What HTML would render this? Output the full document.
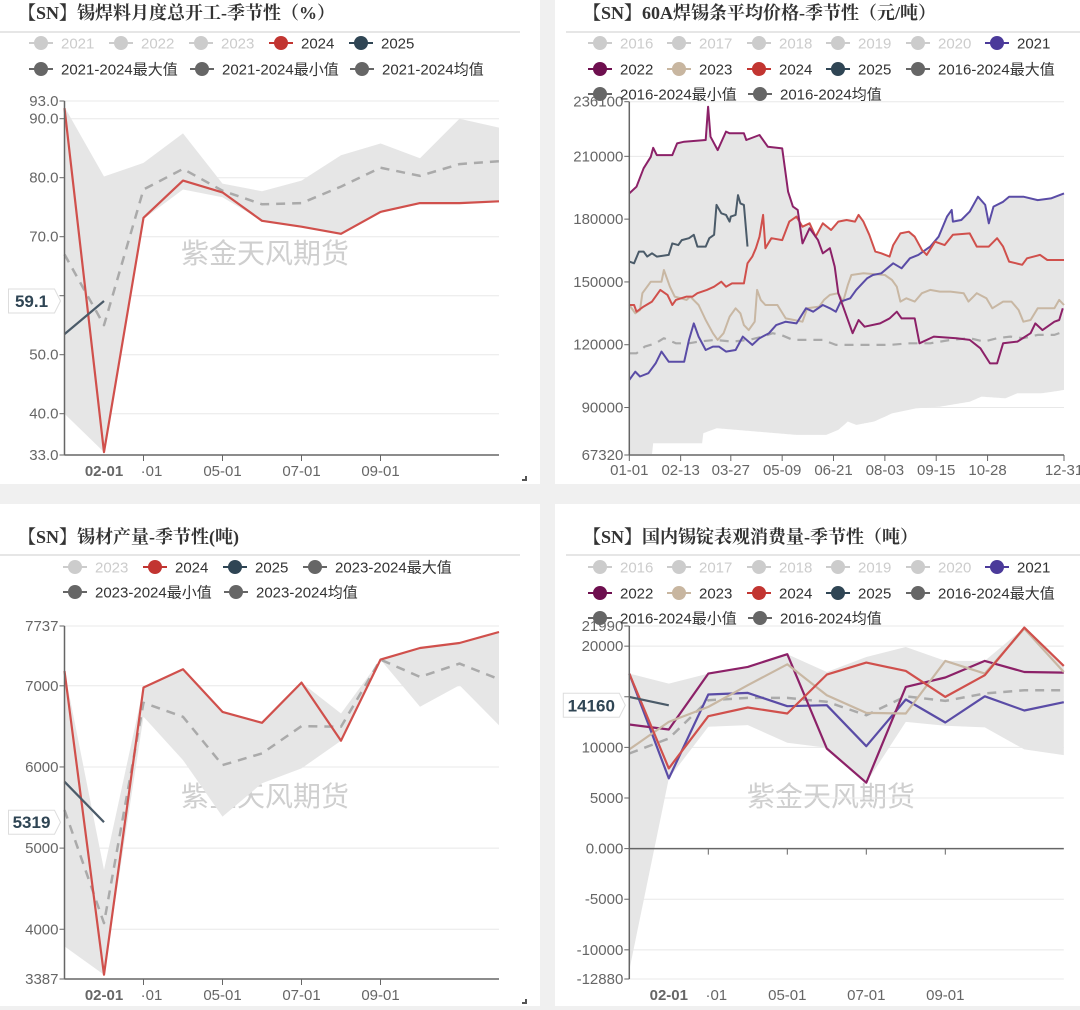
<!DOCTYPE html>
<html><head><meta charset="utf-8">
<style>
html,body{margin:0;padding:0;background:#f0f0f0;}
svg{display:block;}
text{font-family:"Liberation Sans","Noto Sans CJK SC",sans-serif;}
.title{font-family:"Liberation Serif","Noto Serif CJK SC",serif;font-weight:bold;font-size:18px;fill:#333;}
.tick{font-size:15px;fill:#666;}
.leg{font-size:15px;fill:#333;}
.legoff{font-size:15px;fill:#ccc;}
.wm{font-size:28px;fill:#cfcfcf;}
</style></head>
<body>
<svg id="s" xmlns="http://www.w3.org/2000/svg" width="1080" height="1010" viewBox="0 0 1080 1010">
<rect x="0" y="0" width="1080" height="1010" fill="#f0f0f0"/>
<rect x="0" y="0" width="540" height="484" fill="#fff"/>
<rect x="555" y="0" width="525" height="484" fill="#fff"/>
<rect x="0" y="504" width="540" height="502" fill="#fff"/>
<rect x="555" y="504" width="525" height="502" fill="#fff"/>
<text class="title" x="18" y="19">【SN】锡焊料月度总开工-季节性（%）</text>
<text class="title" x="583" y="19">【SN】60A焊锡条平均价格-季节性（元/吨）</text>
<text class="title" x="18" y="543">【SN】锡材产量-季节性(吨)</text>
<text class="title" x="583" y="543">【SN】国内锡锭表观消费量-季节性（吨）</text>
<line x1="0" y1="32" x2="520" y2="32" stroke="#ccc"/>
<line x1="566" y1="32" x2="1080" y2="32" stroke="#ccc"/>
<line x1="0" y1="555" x2="520" y2="555" stroke="#ccc"/>
<line x1="566" y1="555" x2="1080" y2="555" stroke="#ccc"/>
<text class="wm" x="181" y="263">紫金天风期货</text>
<text class="wm" x="747" y="280">紫金天风期货</text>
<text class="wm" x="181" y="806">紫金天风期货</text>
<text class="wm" x="747" y="806">紫金天风期货</text>
<path d="M522 480 h4 v-4" stroke="#555" stroke-width="2" fill="none"/>
<path d="M522 1003 h4 v-4" stroke="#555" stroke-width="2" fill="none"/>
</svg>
<script>
// ===== Panel 1: solder utilization (%) monthly =====
const p1Ticks = [93, 90, 80, 70, 60, 50, 40, 33];
const p1TickLabels = ["93.0","90.0","80.0","70.0","","50.0","40.0","33.0"];
const p1S2024 = [91.8, 33.5, 73.2, 79.5, 77.5, 72.7, 71.7, 70.5, 74.2, 75.7, 75.7, 76.0];
const p1S2025 = [53.5, 59.1];
const p1Mean = [67, 55, 78, 81.5, 77.8, 75.5, 75.7, 78.5, 81.7, 80.3, 82.3, 82.8];
const p1Max = [92, 80.2, 82.5, 87.5, 79, 77.7, 79.5, 83.8, 85.8, 83.3, 90, 88.5];
const p1Min = [40, 33.5, 73, 78, 76.7, 72.7, 71.7, 70.5, 74.2, 75.7, 75.7, 76];
const p1Last = "59.1";
// ===== Panel 3: tin material output (t) monthly =====
const p3Ticks = [7737, 7000, 6000, 5000, 4000, 3387];
const p3TickLabels = ["7737","7000","6000","5000","4000","3387"];
const p3S2024 = [7183, 3440, 6979, 7204, 6679, 6544, 7040, 6323, 7323, 7466, 7528, 7663];
const p3S2025 = [5818, 5319];
const p3Mean = [5470, 4076, 6790, 6618, 6023, 6167, 6503, 6495, 7323, 7110, 7274, 7081];
const p3Max = [7183, 4732, 6979, 7204, 6679, 6544, 7040, 6659, 7323, 7466, 7528, 7663];
const p3Min = [3789, 3440, 6618, 6085, 5388, 5798, 5982, 6323, 7323, 6741, 7007, 6515];
const p3Last = "5319";
// ===== Panel 4: apparent consumption (t) monthly =====
const p4Ticks = [21990, 20000, 15000, 10000, 5000, 0, -5000, -10000, -12880];
const p4TickLabels = ["21990","20000","","10000","5000","0.000","-5000","-10000","-12880"];
const p4S2021 = [17290, 6940, 15220, 15380, 14070, 14170, 10120, 14730, 12460, 15050, 13640, 14460];
const p4S2022 = [12260, 11770, 17290, 17950, 19200, 9890, 6510, 15970, 16900, 18540, 17450, 17390];
const p4S2023 = [9800, 12520, 14000, 16140, 18210, 15150, 13410, 13350, 18540, 17290, 21730, 17450];
const p4S2024 = [17290, 7920, 13080, 13940, 13350, 17190, 18370, 17550, 14990, 17130, 21830, 18050];
const p4S2025 = [14990, 14160];
const p4Mean = [9400, 10880, 14660, 14890, 14890, 14500, 13180, 15050, 14590, 15320, 15650, 15650];
const p4Max = [17290, 16300, 17290, 17950, 19200, 17450, 18930, 19920, 18540, 18540, 21830, 18050];
const p4Min = [-12000, 6940, 12030, 12200, 10450, 9960, 6510, 12520, 12130, 11970, 9800, 9240];
const p4Last = "14160";
// ===== Panel 2: 60A solder bar price, daily (day-of-year, value) =====
const p2Ticks = [236100, 210000, 180000, 150000, 120000, 90000, 67320];
const p2XLabels = ["01-01","02-13","03-27","05-09","06-21","08-03","09-15","10-28","12-31"];
const p2XDays = [0, 43, 85, 128, 171, 214, 257, 300, 364];
const d2022 = [0,6,12,18,20,23,36,40,46,64,66,68,74,81,84,96,98,109,116,128,133,137,141,145,151,158,162,168,172,175,179,187,192,197,210,218,224,228,239,243,255,274,285,294,302,308,313,325,336,340,346,356,360,363];
const v2022 = [192300,195500,204300,209800,214100,210600,210600,216200,217000,217800,233700,219400,213000,221800,221000,221000,217800,220200,214600,213800,193100,186000,184400,168400,175600,170000,163700,166100,157300,144600,138200,125500,131800,128600,130200,132600,135800,132600,132600,120700,123900,123100,122300,118300,111100,111100,120700,121500,125500,130200,127000,131000,131800,137400];
const d2021 = [0,5,9,16,22,27,33,46,50,54,58,64,70,75,81,89,95,103,109,117,123,131,140,148,154,162,168,173,177,185,190,199,204,211,221,228,235,242,252,259,266,270,271,278,285,292,298,301,305,313,318,330,342,353,364];
const v2021 = [103200,107100,104800,106400,111100,116700,111900,111900,122300,130200,123900,117500,119100,119100,116700,117500,123900,119900,123100,125500,129400,131000,130200,137400,135800,139000,137400,135800,140600,142200,146200,151700,153300,154100,158900,156500,161300,162900,166900,171600,181200,184400,178800,179600,183600,190700,186800,178000,186000,188300,190700,190700,189100,189900,192300];
const d2023 = [0,5,9,11,18,23,27,29,34,38,48,51,58,64,70,74,79,84,89,93,96,100,105,107,110,114,124,131,138,145,149,159,163,168,175,179,183,186,196,214,220,224,227,232,239,245,252,260,269,280,284,291,299,304,313,320,326,330,336,342,356,360,364];
const v2023 = [139000,135000,136600,144600,150100,150100,150100,155700,147700,143000,141400,143000,139000,131800,125500,122300,125500,133400,137400,135000,129400,127000,131000,146200,141400,139000,139000,132600,131800,131000,137400,138200,141400,143800,144600,140600,148500,153300,154100,153300,150900,147700,140600,142200,140600,144600,146200,145400,145400,144600,140600,144600,142200,137400,140600,140600,136600,131000,131800,137400,137400,141400,139000];
const d2024 = [0,4,6,12,19,26,32,36,39,48,53,57,65,71,77,81,86,96,99,103,106,109,112,114,119,128,134,140,145,151,156,162,169,175,182,189,192,196,201,206,211,218,221,227,234,239,245,249,256,264,271,285,291,301,308,313,318,329,333,344,350,364];
const v2024 = [139000,139000,135800,138200,140600,146200,143800,139000,141400,143000,143000,144600,146200,147700,150100,147700,149300,149300,158900,162100,166100,171600,182000,166100,170900,170000,178800,181200,176400,178000,171600,178000,174800,178800,179600,178800,182000,178800,172500,164500,163700,162100,167600,173200,174000,171600,165300,162900,169200,167600,172500,173200,166900,166900,170900,166900,159700,158200,161300,162900,160500,160500];
const d2025 = [0,4,8,12,15,19,23,33,36,41,44,50,54,57,64,67,71,73,77,81,84,85,89,91,93,96,99];
const v2025 = [159700,158900,164500,164500,162100,163700,162100,162900,168400,167600,170000,170900,172500,166900,166900,170900,172500,186800,182800,182000,178800,181200,182000,191500,187500,186800,166900];
const dMean = [0,6,13,22,29,39,50,58,72,86,100,112,120,127,137,151,162,173,185,201,218,235,252,269,285,297,308,319,330,342,356,364];
const vMean = [115900,115900,119100,120700,123100,120700,120700,121500,122300,121500,122300,123900,125500,124700,122300,122300,122300,119900,119900,119900,119900,120700,120700,122300,123100,121500,123100,123900,123100,124700,124700,126300];
const dMin = [0,19,20,61,62,73,107,140,165,175,183,190,205,220,240,260,285,295,315,325,345,355,364];
const vMin = [67800,67800,72900,72900,77700,80100,78500,76900,76900,79300,83300,81700,83300,87200,89600,90400,92800,95200,94400,96800,96800,97600,98400];

const NS = "http://www.w3.org/2000/svg";
const svg = document.getElementById('s');
function mk(tag, attrs, parent) {
  const e = document.createElementNS(NS, tag);
  for (const k in attrs) e.setAttribute(k, attrs[k]);
  (parent || svg).appendChild(e);
  return e;
}
function lin(v, d0, d1, r0, r1) { return r0 + (v - d0) / (d1 - d0) * (r1 - r0); }

const C = {c2021:'#5a4ca6', c2022:'#8c2168', c2023:'#c8b7a3', c2024:'#d0504c', c2025:'#4b5b69', mean:'#aaaaaa', band:'#e6e6e6'};

function legendItem(x, y, color, label, off, nm) {
  const g = mk('g', {});
  
  
  mk('line', {x1:x-12, y1:y, x2:x+12, y2:y, stroke:color, 'stroke-width':2}, g);
  mk('circle', {cx:x, cy:y, r:7, fill:color}, g);
  const t = mk('text', {x:x+20, y:y+5.5, class: off ? 'legoff' : 'leg'}, g);
  t.textContent = label;
}

function yAxis(ticks, labels, ys, xAxis, xRight, nm) {
  ticks.forEach((v, i) => {
    const y = ys(v);
    const gl = mk('line', {x1:xAxis, y1:y, x2:xRight, y2:y, stroke:'#e8e8e8', 'stroke-width':1});
    
    
    mk('line', {x1:xAxis-5, y1:y, x2:xAxis, y2:y, stroke:'#666'});
    if (labels[i] !== "") {
      const t = mk('text', {x:xAxis-6, y:y+5, class:'tick', 'text-anchor':'end'});
      
      
      t.textContent = labels[i];
    }
  });
}

function polyline(pts, color, w, dash, nm) {
  const p = mk('polyline', {points: pts.map(p => p[0].toFixed(1) + ',' + p[1].toFixed(1)).join(' '), fill:'none', stroke:color, 'stroke-width':w, 'stroke-linejoin':'round'});
  if (dash) p.setAttribute('stroke-dasharray', dash);
  
  
  return p;
}

function band(top, bot, nm) {
  const pts = top.concat(bot.slice().reverse());
  const p = mk('polygon', {points: pts.map(p => p[0].toFixed(1) + ',' + p[1].toFixed(1)).join(' '), fill:C.band});
  
  
}

function lastLabel(x, y, text, nm) {
  const w = text.length * 10 + 6;
  const g = mk('g', {});
  
  
  mk('path', {d:`M${x-w-8} ${y-12} h${w} l6 12 l-6 12 h-${w} z`, fill:'#fff', stroke:'#ddd'}, g);
  const t = mk('text', {x:x-8-w/2, y:y+6, 'text-anchor':'middle', 'font-size':'17', 'font-weight':'bold', fill:'#2f4554'}, g);
  t.textContent = text;
}

function monthlyXAxis(x0, step, yAxisLine, yLab, tickY, nm) {
  const xs = [2, 4, 6, 8];
  xs.forEach(i => mk('line', {x1:x0+i*step, y1:tickY, x2:x0+i*step, y2:tickY+6, stroke:'#666'}));
  const lab = [[1,'02-01',true],[2,'·01',false],[4,'05-01',false],[6,'07-01',false],[8,'09-01',false]];
  lab.forEach(l => {
    const t = mk('text', {x:x0+l[0]*step + (l[0]===2?8:0), y:yLab, 'text-anchor':'middle', class:'tick'});
    if (l[2]) { t.setAttribute('font-size','18'); t.setAttribute('font-weight','bold'); t.setAttribute('fill','#2f4554'); }
    
    
    t.textContent = l[1];
  });
}

function monthlyPanel(o) {
  const xs = i => o.x0 + i * o.step;
  const ys = v => lin(v, o.ymin, o.ymax, o.yb, o.yt);
  yAxis(o.ticks, o.labels, ys, o.x0, o.x0 + 11*o.step, o.nm);
  band(o.max.map((v,i)=>[xs(i),ys(v)]), o.min.map((v,i)=>[xs(i),ys(v)]), o.nm + '-range-band');
  polyline(o.mean.map((v,i)=>[xs(i),ys(v)]), C.mean, 2.5, '9,7', o.nm + '-mean-line');
  (o.series || []).forEach(s => polyline(s.v.map((v,i)=>[xs(i),ys(v)]), s.c, 2.2, null, o.nm + '-line-' + s.n));
  mk('line', {x1:o.x0, y1:o.yt, x2:o.x0, y2:o.yb, stroke:'#666', 'stroke-width':1.5});
  const axY = o.zeroAxis ? ys(0) : o.yb;
  mk('line', {x1:o.x0, y1:axY, x2:o.x0+11*o.step, y2:axY, stroke:'#666', 'stroke-width':1.5});
  monthlyXAxis(o.x0, o.step, axY, o.yLab, axY, o.nm);
  lastLabel(o.x0 - 2, ys(o.lastV), o.lastText, o.nm + '-last-value-label');
}

// Panel 1
monthlyPanel({nm:'p1', x0:64.5, step:39.5, ymin:33, ymax:93, yb:455, yt:101, ticks:p1Ticks, labels:p1TickLabels,
  max:p1Max, min:p1Min, mean:p1Mean, series:[{v:p1S2024,c:C.c2024,n:'2024'},{v:p1S2025,c:C.c2025,n:'2025'}],
  yLab:476, lastV:59.1, lastText:p1Last});
// Panel 3
monthlyPanel({nm:'p3', x0:64.5, step:39.5, ymin:3387, ymax:7737, yb:979, yt:626, ticks:p3Ticks, labels:p3TickLabels,
  max:p3Max, min:p3Min, mean:p3Mean, series:[{v:p3S2024,c:C.c2024,n:'2024'},{v:p3S2025,c:C.c2025,n:'2025'}],
  yLab:1000, lastV:5319, lastText:p3Last});
// Panel 4
monthlyPanel({nm:'p4', x0:629.3, step:39.5, ymin:-12880, ymax:21990, yb:979, yt:626, ticks:p4Ticks, labels:p4TickLabels,
  max:p4Max, min:p4Min, mean:p4Mean, zeroAxis:true,
  series:[{v:p4S2021,c:C.c2021,n:'2021'},{v:p4S2022,c:C.c2022,n:'2022'},{v:p4S2023,c:C.c2023,n:'2023'},{v:p4S2024,c:C.c2024,n:'2024'},{v:p4S2025,c:C.c2025,n:'2025'}],
  yLab:1000, lastV:14160, lastText:p4Last});

// Panel 2 (daily)
(function(){
  const x0 = 629.3, x1 = 1064, yt = 101.7, yb = 455;
  const xs = d => lin(d, 0, 364, x0, x1);
  const ys = v => lin(v, 67320, 236100, yb, yt);
  yAxis(p2Ticks, p2Ticks.map(String), ys, x0, x1, 'p2');
  function interp(ds, vs, d) {
    if (d <= ds[0]) return vs[0];
    for (let i = 1; i < ds.length; i++) if (d <= ds[i]) return vs[i-1] + (vs[i]-vs[i-1]) * (d-ds[i-1]) / ((ds[i]-ds[i-1]) || 1);
    return vs[vs.length-1];
  }
  const top = [], bot = [];
  for (let d = 0; d <= 364; d += 1) {
    const m = Math.max(interp(d2021,v2021,d), interp(d2022,v2022,d), interp(d2023,v2023,d), interp(d2024,v2024,d));
    top.push([xs(d), ys(m)]);
    bot.push([xs(d), ys(interp(dMin, vMin, d))]);
  }
  band(top, bot, 'p2-range-band');
  polyline(dMean.map((d,i)=>[xs(d), ys(vMean[i])]), C.mean, 2.2, '9,7', 'p2-mean-line');
  [[d2023,v2023,C.c2023,'2023'],[d2021,v2021,C.c2021,'2021'],[d2024,v2024,C.c2024,'2024'],[d2022,v2022,C.c2022,'2022'],[d2025,v2025,C.c2025,'2025']].forEach(s => {
    polyline(s[0].map((d,i)=>[xs(d), ys(s[1][i])]), s[2], 2, null, 'p2-line-' + s[3]);
  });
  mk('line', {x1:x0, y1:yt, x2:x0, y2:yb, stroke:'#666', 'stroke-width':1.5});
  mk('line', {x1:x0, y1:yb, x2:x1, y2:yb, stroke:'#666', 'stroke-width':1.5});
  p2XDays.forEach((d, i) => {
    mk('line', {x1:xs(d), y1:yb, x2:xs(d), y2:yb+6, stroke:'#666'});
    const t = mk('text', {x:xs(d), y:475, 'text-anchor':'middle', class:'tick'});
    
    
    t.textContent = p2XLabels[i];
  });
})();

// Legends
(function(){
  const L = [
    [41,43,'#ccc','2021',1],[121,43,'#ccc','2022',1],[201,43,'#ccc','2023',1],[281,43,'#c23531','2024',0],[361,43,'#2f4554','2025',0],
    [41,69,'#666','2021-2024最大值',0],[202,69,'#666','2021-2024最小值',0],[362,69,'#666','2021-2024均值',0]
  ];
  L.forEach(l => legendItem(l[0], l[1], l[2], l[3], l[4], 'p1-legend-' + l[3]));
  const L3 = [
    [75,567,'#ccc','2023',1],[155,567,'#c23531','2024',0],[235,567,'#2f4554','2025',0],[315,567,'#666','2023-2024最大值',0],
    [75,592,'#666','2023-2024最小值',0],[236,592,'#666','2023-2024均值',0]
  ];
  L3.forEach(l => legendItem(l[0], l[1], l[2], l[3], l[4], 'p3-legend-' + l[3]));
  [0, 520].forEach((dy, k) => {
    const L2 = [
      [600,43,'#ccc','2016',1],[679,43,'#ccc','2017',1],[759,43,'#ccc','2018',1],[838,43,'#ccc','2019',1],[918,43,'#ccc','2020',1],[997,43,'#4b3a9a','2021',0],
      [600,69,'#6e0f4f','2022',0],[679,69,'#c8b6a0','2023',0],[759,69,'#c23531','2024',0],[838,69,'#2f4554','2025',0],[918,69,'#666','2016-2024最大值',0],
      [600,94,'#666','2016-2024最小值',0],[760,94,'#666','2016-2024均值',0]
    ];
    L2.forEach(l => legendItem(l[0], l[1] + dy + (k ? 4 : 0), l[2], l[3], l[4], (k ? 'p4' : 'p2') + '-legend-' + l[3]));
  });
})();
</script>
</body></html>
